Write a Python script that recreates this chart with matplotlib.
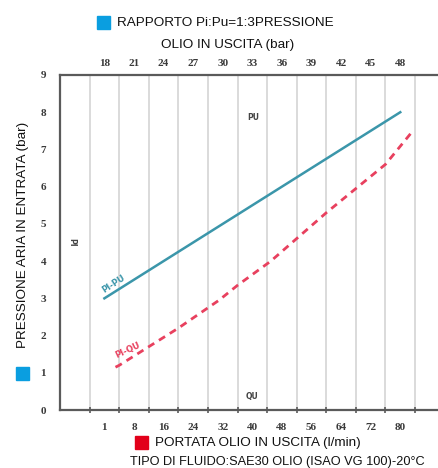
"""
Rapporto Pi:Pu = 1:3 — curva pressione aria / pressione olio / portata
Ricostruzione del grafico della scheda tecnica della pompa.
"""

import matplotlib
matplotlib.use("Agg")
import matplotlib.pyplot as plt
from matplotlib.patches import Rectangle

# asse inferiore: portata olio (l/min)
flow_ticks = [0, 8, 16, 24, 32, 40, 48, 56, 64, 72, 80]
flow_labels = ["1", "8", "16", "24", "32", "40", "48", "56", "64", "72", "80"]
# asse superiore: pressione olio (bar)
press_ticks = [18, 21, 24, 27, 30, 33, 36, 39, 42, 45, 48]
# asse sinistro: pressione aria (bar)
air_ticks = list(range(0, 10))

# curva Pi-Pu (pressione olio vs pressione aria)
pu_press = [18, 48]
pu_air = [3.0, 8.0]

# curva Pi-Qu (portata vs pressione aria)
qu_flow = [3, 4, 12, 20, 31, 36, 45, 60, 68, 76, 83]
qu_air = [1.15, 1.2, 1.7, 2.2, 2.95, 3.35, 4.0, 5.3, 5.95, 6.6, 7.45]

W, H = 438, 468
AXIS_COL = "#5a5a5a"
GRID_COL = "#d4d4d4"
TICK_COL = "#3a3a3a"
BLUE = "#3b96aa"
RED = "#e8405e"


def fx(px):
    return px / W


def fy(py):
    return 1 - py / H


fig = plt.figure(figsize=(W / 100, H / 100), dpi=100)
ax = fig.add_axes([fx(60), fy(410), fx(W - 60), (410 - 75) / H])

# asse x principale in l/min, gridlines sfalsate di mezzo passo
ax.set_xlim(-12, 90.2)
ax.set_ylim(0, 9)
ax.set_xticks(flow_ticks)
ax.set_xticklabels(flow_labels)
ax.set_xticks([q - 4 for q in flow_ticks] + [84], minor=True)
ax.set_yticks(air_ticks)
ax.set_yticks(air_ticks[1:-1], minor=True)
ax.grid(which="minor", color=GRID_COL, linewidth=1.2)
ax.grid(which="major", visible=False)
ax.tick_params(axis="x", which="major", length=0, pad=9, labelsize=8,
               labelcolor=TICK_COL)
ax.tick_params(axis="x", which="minor", direction="inout", length=4,
               width=1.2, color=AXIS_COL, top=True)
ax.tick_params(axis="y", which="both", length=0, pad=10, labelsize=8,
               labelcolor=TICK_COL)
for lab in ax.get_xticklabels() + ax.get_yticklabels():
    lab.set_fontweight("bold")
    lab.set_family("Liberation Serif")

for side in ["left", "top", "bottom"]:
    ax.spines[side].set_color(AXIS_COL)
    ax.spines[side].set_linewidth(1.6)
ax.spines["right"].set_visible(False)

# asse superiore in bar
ax2 = ax.twiny()
ax2.set_xlim(13.5, 13.5 + 102.2 * 3 / 8)
ax2.set_xticks(press_ticks)
ax2.tick_params(axis="x", length=0, pad=5, labelsize=8, labelcolor=TICK_COL)
for lab in ax2.get_xticklabels():
    lab.set_fontweight("bold")
    lab.set_family("Liberation Serif")
for side in ax2.spines:
    ax2.spines[side].set_visible(False)

ax.plot(qu_flow, qu_air, color=RED, linewidth=2, linestyle=(0, (2.6, 2)))
ax2.plot(pu_press, pu_air, color=BLUE, linewidth=1.8)

# etichette interne
ax.text(2.6, 3.39, "PI-PU", color=BLUE, fontsize=6, fontweight="bold",
        rotation=33, ha="center", va="center")
ax.text(6.4, 1.6, "PI-QU", color=RED, fontsize=6, fontweight="bold",
        rotation=25, ha="center", va="center")
ax.text(40.2, 7.85, "PU", color="#444444", fontsize=5.5, fontweight="bold",
        ha="center", va="center")
ax.text(40.0, 0.35, "QU", color="#444444", fontsize=5.5, fontweight="bold",
        ha="center", va="center")
ax.text(-8.8, 4.5, "PI", color="#444444", fontsize=5.5, fontweight="bold",
        rotation=-90, ha="center", va="center")

# titoli e legende esterne
font = "Liberation Sans"
fig.text(fx(117), fy(23), "RAPPORTO Pi:Pu=1:3PRESSIONE", family=font,
         fontsize=9.7, ha="left", va="center", color="#111111")
fig.text(fx(228), fy(45), "OLIO IN USCITA (bar)", family=font,
         fontsize=9.7, ha="center", va="center", color="#111111")
fig.text(fx(155), fy(443), "PORTATA OLIO IN USCITA (l/min)", family=font,
         fontsize=9.7, ha="left", va="center", color="#111111")
fig.text(fx(130), fy(462), "TIPO DI FLUIDO:SAE30 OLIO (ISAO VG 100)-20°C",
         family=font, fontsize=9.2, ha="left", va="center", color="#111111")
fig.text(fx(23), fy(235), "PRESSIONE ARIA IN ENTRATA (bar)", family=font,
         fontsize=9.7, rotation=90, ha="center", va="center", color="#111111")

for x0, y0, col in [(97, 29, "#0a9ee0"), (16, 380, "#0a9ee0"),
                    (135, 449, "#e2001a")]:
    fig.patches.append(Rectangle((fx(x0), fy(y0)), 13 / W, 13 / H,
                                 transform=fig.transFigure, color=col))

fig.savefig("out.png", dpi=100)
